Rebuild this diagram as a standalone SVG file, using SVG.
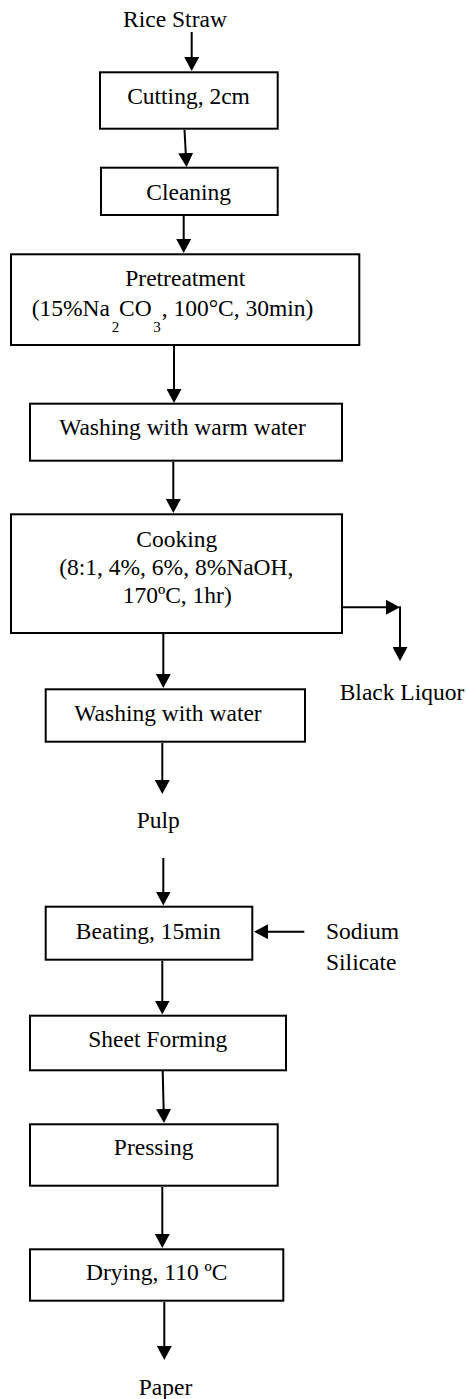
<svg xmlns="http://www.w3.org/2000/svg" width="467" height="1399" viewBox="0 0 467 1399">
<style>
text{font-family:"Liberation Serif","Times New Roman",serif;font-size:23.5px;fill:#000}
.c{text-anchor:middle}
.box{fill:#fff;stroke:#000;stroke-width:2}
.ln{stroke:#000;stroke-width:2;fill:none;marker-end:url(#ah)}
.sub{font-size:15px}
</style>
<defs>
<marker id="ah" viewBox="0 0 14 15" markerWidth="14" markerHeight="15" refX="10" refY="7.5" orient="auto" markerUnits="userSpaceOnUse">
<path d="M0,0 L14,7.5 L0,15 z" fill="#000"/>
</marker>
</defs>
<rect width="467" height="1399" fill="#fff"/>
<g id="connectors">
<line class="ln" x1="191.7" y1="32" x2="191.7" y2="67"/>
<line class="ln" x1="184.5" y1="130" x2="186.3" y2="163"/>
<line class="ln" x1="183.7" y1="216" x2="183.7" y2="249"/>
<line class="ln" x1="174" y1="346" x2="174" y2="399"/>
<line class="ln" x1="173.3" y1="462" x2="173.3" y2="509"/>
<line class="ln" x1="343" y1="607.3" x2="396" y2="607.3"/>
<line class="ln" x1="400" y1="606.3" x2="400" y2="657"/>
<line class="ln" x1="163.3" y1="634" x2="163.3" y2="684"/>
<line class="ln" x1="162.3" y1="743" x2="162.3" y2="790"/>
<line class="ln" x1="163.3" y1="858" x2="163.3" y2="901.5"/>
<line class="ln" x1="304.3" y1="931.7" x2="258" y2="931.7"/>
<line class="ln" x1="162.3" y1="961" x2="162.3" y2="1010.5"/>
<line class="ln" x1="162.7" y1="1071" x2="163.9" y2="1119"/>
<line class="ln" x1="162.3" y1="1187" x2="162.3" y2="1244"/>
<line class="ln" x1="164.3" y1="1302" x2="164.3" y2="1356"/>
</g>
<g id="rice-straw"><text class="c" x="175" y="27">Rice Straw</text></g>
<g id="cutting"><rect class="box" x="100" y="72.3" width="177.7" height="56.4"/><text class="c" x="188.5" y="104">Cutting, 2cm</text></g>
<g id="cleaning"><rect class="box" x="101" y="167.7" width="176.7" height="47.3"/><text class="c" x="188.7" y="200">Cleaning</text></g>
<g id="pretreatment"><rect class="box" x="11" y="254.3" width="348.3" height="90.7"/>
<text class="c" x="185.3" y="286">Pretreatment</text>
<text x="31.7" y="316">(15%Na</text><text class="sub" x="111.7" y="331.7">2</text><text x="119" y="316">CO</text><text class="sub" x="153.3" y="331.7">3</text><text x="161.7" y="316">, 100°C, 30min)</text>
</g>
<g id="washing-warm"><rect class="box" x="30" y="403.7" width="312" height="57"/><text class="c" x="182.5" y="435">Washing with warm water</text></g>
<g id="cooking"><rect class="box" x="11" y="514.3" width="331" height="118.7"/>
<text class="c" x="176.7" y="546.7">Cooking</text>
<text class="c" x="176.3" y="575">(8:1, 4%, 6%, 8%NaOH,</text>
<text class="c" x="177.2" y="602.7">170ºC, 1hr)</text>
</g>
<g id="black-liquor"><text class="c" x="402" y="700">Black Liquor</text></g>
<g id="washing-water"><rect class="box" x="45.7" y="689.3" width="259.3" height="52.4"/><text class="c" x="168" y="721">Washing with water</text></g>
<g id="pulp"><text class="c" x="158.3" y="828">Pulp</text></g>
<g id="beating"><rect class="box" x="45.7" y="906.7" width="206.6" height="53"/><text class="c" x="148.3" y="939.3">Beating, 15min</text></g>
<g id="sodium-silicate"><text x="326" y="939.3">Sodium</text><text x="326" y="970">Silicate</text></g>
<g id="sheet-forming"><rect class="box" x="30" y="1015.7" width="256" height="54.6"/><text class="c" x="157.8" y="1046.7">Sheet Forming</text></g>
<g id="pressing"><rect class="box" x="30" y="1124.3" width="247.7" height="61.4"/><text class="c" x="153.7" y="1155">Pressing</text></g>
<g id="drying"><rect class="box" x="30" y="1249.3" width="253.3" height="51.4"/><text class="c" x="156.7" y="1280">Drying, 110 ºC</text></g>
<g id="paper"><text class="c" x="165.5" y="1395">Paper</text></g>
</svg>
